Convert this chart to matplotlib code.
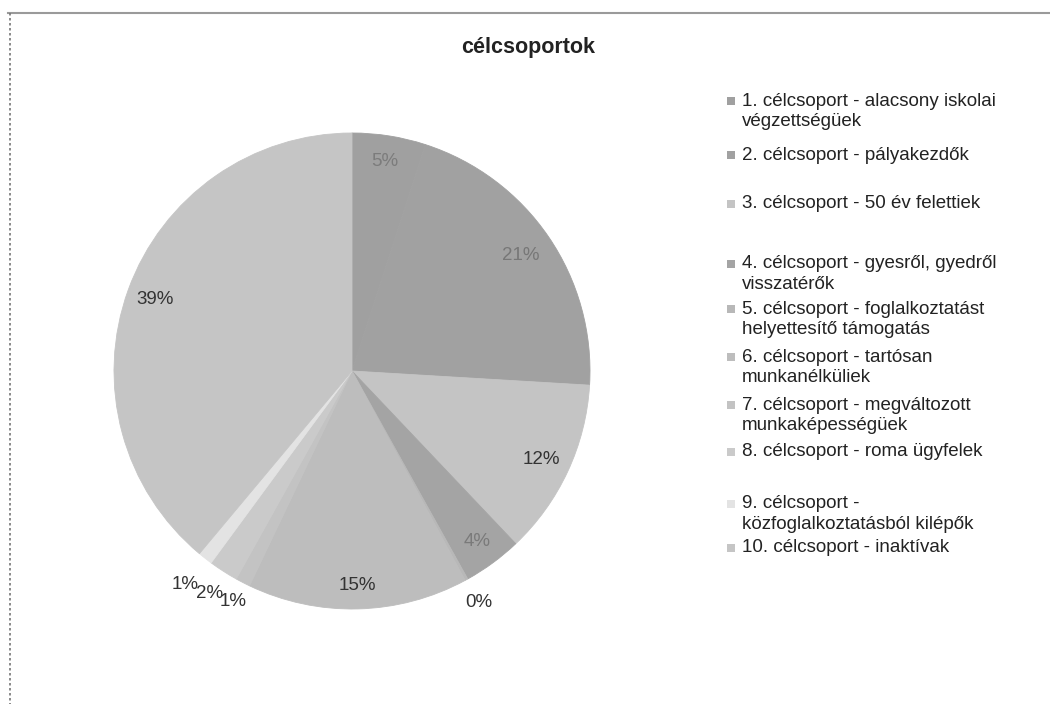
import matplotlib
matplotlib.use("Agg")
import matplotlib.pyplot as plt
from matplotlib.patches import Rectangle
from matplotlib.lines import Line2D
import numpy as np

plt.rcParams['font.family'] = ['Liberation Sans', 'DejaVu Sans']

# ---- data ----
title = "célcsoportok"
categories = [
    "1. célcsoport - alacsony iskolai\nvégzettségüek",
    "2. célcsoport - pályakezdők",
    "3. célcsoport - 50 év felettiek",
    "4. célcsoport - gyesről, gyedről\nvisszatérők",
    "5. célcsoport - foglalkoztatást\nhelyettesítő támogatás",
    "6. célcsoport - tartósan\nmunkanélküliek",
    "7. célcsoport - megváltozott\nmunkaképességüek",
    "8. célcsoport - roma ügyfelek",
    "9. célcsoport -\nközfoglalkoztatásból kilépők",
    "10. célcsoport - inaktívak",
]
values = [5, 21, 12, 4, 0.2, 15, 1, 2, 1, 39]
pct_labels = ["5%", "21%", "12%", "4%", "0%", "15%", "1%", "2%", "1%", "39%"]

# ---- style ----
colors = ["#a0a0a0", "#a1a1a1", "#c4c4c4", "#a4a4a4", "#b8b8b8",
          "#bdbdbd", "#c3c3c3", "#cacaca", "#e3e3e3", "#c5c5c5"]
label_colors = ["#7c7c7c", "#777777", "#333333", "#7a7a7a", "#333333",
                "#333333", "#333333", "#333333", "#333333", "#333333"]
label_r = [0.89, 0.86, 0.88, 0.89, 1.11, 0.90, 1.09, 1.11, 1.14, 0.88]

W, H = 1050, 704
fig = plt.figure(figsize=(W / 100, H / 100), dpi=100)
fig.patch.set_facecolor("white")

# page frame
fig.add_artist(Line2D([8 / W, 1.0], [1 - 13 / H, 1 - 13 / H], color="#9a9a9a", lw=1.5))
fig.add_artist(Line2D([10 / W, 10 / W], [1 - 13 / H, 0.0], color="#777777", lw=1.2,
                      linestyle=(0, (1.5, 1.5))))

cx, cy, R = 352, 371, 238
ax = fig.add_axes([(cx - R) / W, (H - cy - R) / H, 2 * R / W, 2 * R / H])
wedges, _ = ax.pie(values, colors=colors, startangle=90, counterclock=False,
                   radius=1.0, wedgeprops=dict(linewidth=0.6))
for w in wedges:
    w.set_edgecolor(w.get_facecolor())
ax.set_xlim(-1, 1)
ax.set_ylim(-1, 1)
ax.set_aspect("equal")
ax.axis("off")

for w, lab, r, c in zip(wedges, pct_labels, label_r, label_colors):
    ang = np.deg2rad((w.theta1 + w.theta2) / 2)
    ax.text(r * np.cos(ang), r * np.sin(ang), lab, ha="center", va="center",
            fontsize=13.5, color=c)

fig.text(528 / W, 1 - 47 / H, title, ha="center", va="center",
         fontsize=15.5, fontweight="bold", color="#222222")

# legend (manual, Excel-like slots)
legend_y = [101, 155, 204, 264, 309, 357, 405, 452, 504, 548]
line_gap = 20.5
for lab, col, y in zip(categories, colors, legend_y):
    fig.add_artist(Rectangle((727 / W, 1 - (y + 4) / H), 8 / W, 8 / H,
                             facecolor=col, edgecolor="none",
                             transform=fig.transFigure))
    for k, line in enumerate(lab.split("\n")):
        fig.text(742 / W, 1 - (y + k * line_gap) / H, line, ha="left", va="center",
                 fontsize=13.5, color="#222222")

fig.savefig("out.png", dpi=100)
